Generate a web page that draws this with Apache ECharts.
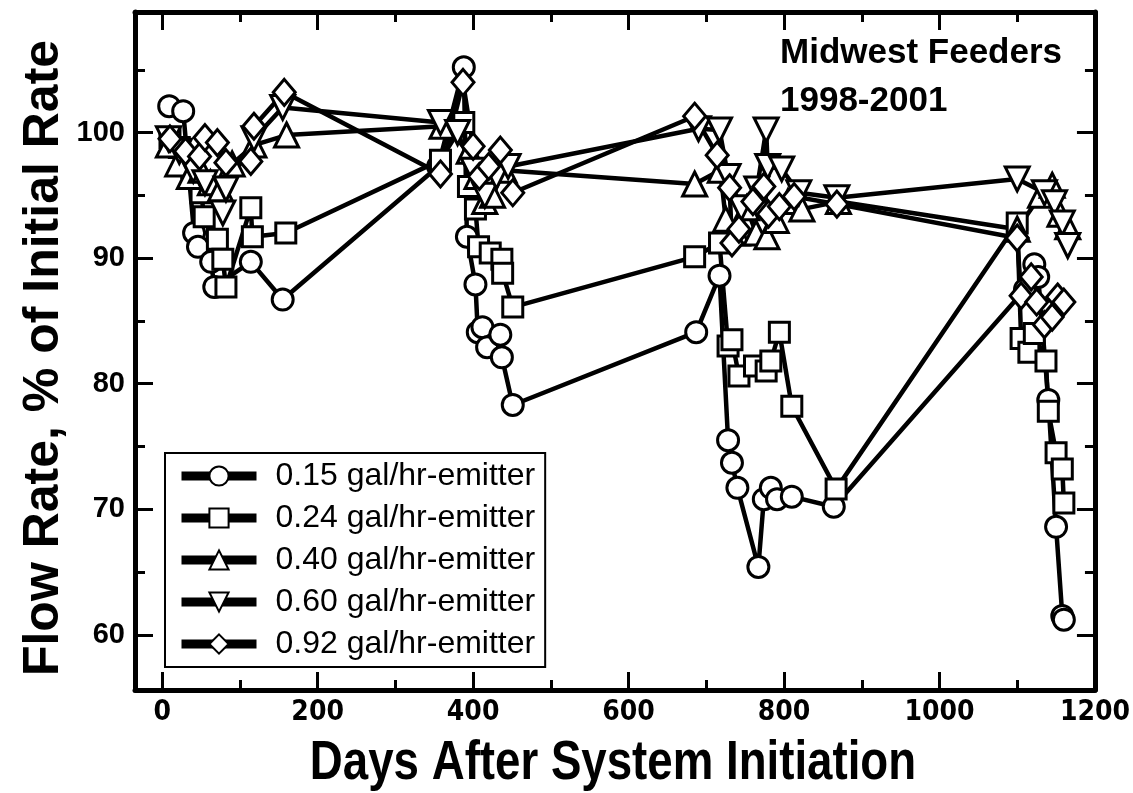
<!DOCTYPE html>
<html>
<head>
<meta charset="utf-8">
<script src="https://cdn.jsdelivr.net/npm/echarts@6/dist/echarts.min.js"></script>
<style>
  html, body { margin: 0; padding: 0; background: #fff; }
  #chart { width: 1133px; height: 793px; }
</style>
</head>
<body>
<div id="chart"></div>
<script>
// emitter flow data (days, % of initial rate)
var names = ['0.15 gal/hr-emitter', '0.24 gal/hr-emitter', '0.40 gal/hr-emitter', '0.60 gal/hr-emitter', '0.92 gal/hr-emitter'];

var days015 = [9, 27, 41, 46, 63, 67, 114, 155, 355, 388, 392, 403, 406, 412, 418, 435, 437, 451, 687, 717, 728, 733, 740, 767, 774, 783, 791, 810, 864, 1110, 1122, 1127, 1140, 1150, 1158, 1160];
var flow015 = [102.1, 101.7, 92.0, 90.9, 89.7, 87.7, 89.7, 86.7, 97.3, 105.2, 91.7, 87.9, 84.1, 84.5, 82.9, 83.9, 82.1, 78.3, 84.1, 88.6, 75.5, 73.7, 71.7, 65.4, 70.8, 71.7, 70.8, 71.0, 70.2, 87.5, 89.5, 88.5, 78.7, 68.6, 61.5, 61.2];

var days024 = [10, 22, 38, 50, 54, 71, 78, 82, 114, 116, 159, 358, 388, 394, 403, 407, 422, 437, 438, 451, 685, 717, 728, 733, 742, 762, 777, 783, 794, 810, 867, 1100, 1105, 1115, 1122, 1137, 1140, 1150, 1158, 1160];
var flow024 = [99.6, 98.8, 97.2, 95.2, 93.3, 91.5, 89.9, 87.7, 94.0, 91.7, 92.0, 97.8, 100.8, 95.7, 93.9, 90.9, 90.4, 89.9, 88.8, 86.1, 90.1, 91.2, 83.0, 83.5, 80.6, 81.4, 81.0, 81.8, 84.1, 78.2, 71.6, 92.8, 83.6, 82.5, 84.0, 81.8, 77.8, 74.5, 73.2, 70.5];

var days040 = [8, 20, 35, 50, 62, 75, 90, 118, 160, 360, 395, 405, 415, 425, 440, 685, 718, 725, 740, 752, 764, 778, 790, 805, 823, 870, 1100, 1130, 1145, 1155, 1165];
var flow040 = [99.0, 97.5, 96.5, 97.0, 96.0, 95.5, 97.5, 99.0, 99.8, 100.5, 98.5, 96.5, 94.5, 95.0, 97.0, 95.9, 97.0, 93.1, 92.0, 94.0, 92.0, 91.7, 93.0, 94.5, 93.9, 94.5, 92.3, 95.0, 95.8, 93.5, 92.5];

var days060 = [8, 22, 40, 55, 78, 82, 118, 155, 358, 380, 400, 415, 430, 445, 690, 717, 728, 745, 765, 777, 779, 797, 819, 868, 1100, 1135, 1148, 1158, 1165];
var flow060 = [99.5, 98.5, 97.0, 96.0, 93.6, 95.5, 99.5, 102.0, 100.8, 100.0, 97.0, 95.0, 96.5, 97.3, 100.3, 100.2, 96.5, 94.0, 95.5, 100.2, 97.3, 97.1, 95.2, 94.8, 96.3, 95.2, 94.4, 92.8, 91.0];

var days092 = [10, 30, 48, 55, 71, 82, 114, 118, 157, 358, 387, 400, 408, 420, 435, 451, 685, 714, 730, 733, 742, 760, 774, 780, 794, 813, 868, 1100, 1105, 1118, 1125, 1135, 1145, 1152, 1160];
var flow092 = [99.5, 98.5, 98.1, 99.6, 99.2, 97.6, 97.7, 100.5, 103.2, 96.7, 104.0, 98.9, 96.5, 97.3, 98.6, 95.2, 101.3, 98.2, 95.6, 91.2, 92.3, 94.5, 95.7, 93.5, 94.1, 94.9, 94.3, 91.6, 87.0, 88.5, 86.5, 84.7, 85.3, 86.9, 86.5];

var xLabels = [0, 200, 400, 600, 800, 1000, 1200];
var xMinor = [100, 300, 500, 700, 900, 1100];
var yLabels = [60, 70, 80, 90, 100];
var yMinor = [65, 75, 85, 95, 105];

var X_MIN = -35, X_MAX = 1200, Y_MIN = 55.6, Y_MAX = 109.6;

function pairs(d, v) {
    var out = [];
    for (var i = 0; i < d.length; i++) out.push([d[i], v[i]]);
    return out;
}

var myChart = echarts.init(document.getElementById('chart'));

function mkSeries(name, d, v, symbol, size, rotate) {
    return {
        name: name,
        type: 'line',
        data: pairs(d, v),
        symbol: symbol,
        symbolSize: size,
        symbolRotate: rotate || 0,
        showAllSymbol: true,
        animation: false,
        lineStyle: { color: '#000', width: 4.5 },
        itemStyle: { color: '#fff', borderColor: '#000', borderWidth: 3 }
    };
}

function xAx(pos, vals, len, labels, line) {
    return {
        type: 'value', position: pos, min: X_MIN, max: X_MAX,
        splitLine: { show: false },
        axisLine: { show: line, onZero: false, lineStyle: { color: '#000', width: 5 } },
        axisTick: { show: true, inside: true, length: len, customValues: vals, lineStyle: { color: '#000', width: 3 } },
        axisLabel: labels ? {
            show: true, customValues: vals, margin: 9, color: '#000',
            formatter: function (v) { return String(v); },
            fontFamily: "'DejaVu Sans Condensed', 'Liberation Sans', Arial", fontWeight: 'bold', fontSize: 28
        } : { show: false }
    };
}

function yAx(pos, vals, len, labels, line) {
    return {
        type: 'value', position: pos, min: Y_MIN, max: Y_MAX,
        splitLine: { show: false },
        axisLine: { show: line, onZero: false, lineStyle: { color: '#000', width: 5 } },
        axisTick: { show: true, inside: true, length: len, customValues: vals, lineStyle: { color: '#000', width: 3 } },
        axisLabel: labels ? {
            show: true, customValues: vals, margin: 10, color: '#000',
            fontFamily: "'Liberation Sans', Arial", fontWeight: 'bold', fontSize: 29
        } : { show: false }
    };
}

var option = {
    backgroundColor: '#fff',
    animation: false,
    grid: { left: 135, right: 36, top: 12, bottom: 103, containLabel: false },
    xAxis: [
        xAx('bottom', xLabels, 18, true, true),
        xAx('bottom', xMinor, 10, false, false),
        xAx('top', xLabels, 18, false, true),
        xAx('top', xMinor, 10, false, false)
    ],
    yAxis: [
        yAx('left', yLabels, 18, true, true),
        yAx('left', yMinor, 10, false, false),
        yAx('right', yLabels, 18, false, true),
        yAx('right', yMinor, 10, false, false)
    ],
    legend: {
        orient: 'vertical',
        left: 165, top: 453,
        padding: [7, 10, 7, 12],
        itemWidth: 75, itemHeight: 24, itemGap: 10,
        backgroundColor: '#fff',
        borderColor: '#000', borderWidth: 2,
        lineStyle: { width: 9 },
        textStyle: { color: '#000', fontSize: 32, fontFamily: "'Liberation Sans', Arial", padding: [0, 0, 0, 14] },
        data: names
    },
    graphic: [
        { type: 'text', left: 780, top: 36, style: { text: 'Midwest Feeders', fill: '#000', font: "bold 35px 'Liberation Sans', Arial" } },
        { type: 'text', left: 780, top: 84, style: { text: '1998-2001', fill: '#000', font: "bold 35px 'Liberation Sans', Arial" } },
        { type: 'text', x: 613, y: 764, scaleX: 0.83, style: { text: 'Days After System Initiation', fill: '#000', align: 'center', verticalAlign: 'middle', font: "bold 55px 'Liberation Sans', Arial" } },
        { type: 'text', x: 44, y: 358, rotation: Math.PI / 2, style: { text: 'Flow Rate, % of Initial Rate', fill: '#000', align: 'center', verticalAlign: 'middle', font: "bold 50px 'Liberation Sans', Arial" } }
    ],
    series: [
        mkSeries(names[0], days015, flow015, 'circle', 21),
        mkSeries(names[1], days024, flow024, 'rect', 20),
        mkSeries(names[2], days040, flow040, 'triangle', 24),
        mkSeries(names[3], days060, flow060, 'triangle', 24, 180),
        mkSeries(names[4], days092, flow092, 'diamond', [22, 26])
    ]
};

myChart.setOption(option);
</script>
</body>
</html>
